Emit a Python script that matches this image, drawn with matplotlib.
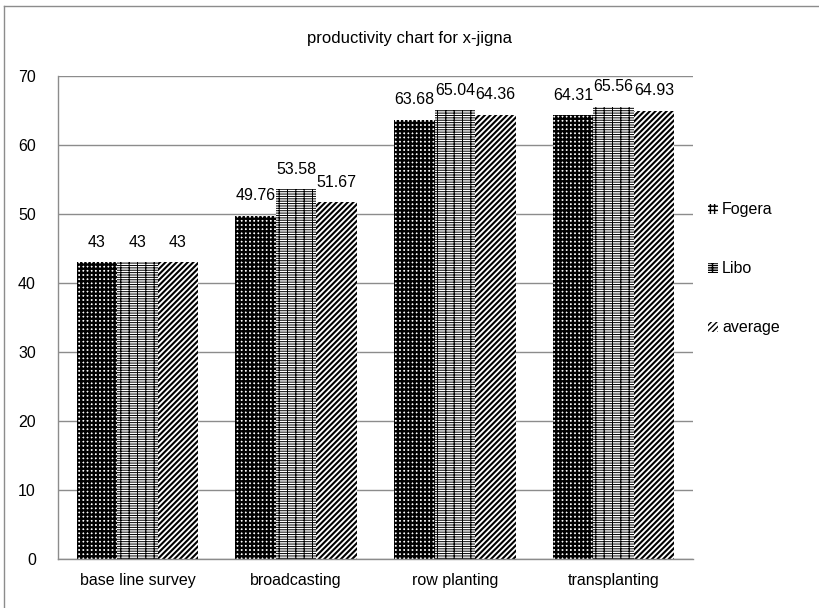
import matplotlib
matplotlib.use("Agg")
import matplotlib.pyplot as plt
import numpy as np
from matplotlib.lines import Line2D

plt.rcParams['font.family'] = ['Liberation Sans', 'DejaVu Sans']

categories = ["base line survey", "broadcasting", "row planting", "transplanting"]
series_names = ["Fogera", "Libo", "average"]
fogera = [43, 49.76, 63.68, 64.31]
libo = [43, 53.58, 65.04, 65.56]
average = [43, 51.67, 64.36, 64.93]
labels_fogera = ["43", "49.76", "63.68", "64.31"]
labels_libo = ["43", "53.58", "65.04", "65.56"]
labels_average = ["43", "51.67", "64.36", "64.93"]
yticks = [0, 10, 20, 30, 40, 50, 60, 70]

fig = plt.figure(figsize=(8.19, 6.08), dpi=100)
ax = fig.add_axes([58/819, 1-559/608, (693-58)/819, (559-76)/608])

x = np.arange(len(categories))
w = 0.255
hatches = ['++++', '-----++', '//////']
hlw = [1.7, 0.7, 1.5]
data = [fogera, libo, average]
labs = [labels_fogera, labels_libo, labels_average]
handles = []
for i, (vals, h, lb) in enumerate(zip(data, hatches, labs)):
    with plt.rc_context({'hatch.linewidth': hlw[i]}):
        bars = ax.bar(x + (i-1)*w, vals, w, color='white', edgecolor='black',
                      hatch=h, linewidth=0, label=series_names[i])
        for b in bars:
            if hasattr(b, 'set_hatch_linewidth'):
                b.set_hatch_linewidth(hlw[i])
    ax.bar_label(bars, labels=lb, padding=9, fontsize=11.5)
    handles.append(bars)

ax.set_ylim(0, 70)
ax.set_xlim(-0.5, 3.5)
ax.set_yticks(yticks)
ax.set_xticks(x)
ax.set_xticklabels(categories, fontsize=11.5)
ax.tick_params(axis='y', labelsize=11.5, length=0, pad=16)
ax.tick_params(axis='x', length=0, pad=10)
ax.yaxis.grid(True, color='#8c8c8c', linewidth=1)
ax.set_axisbelow(True)
for s in ['top', 'right']:
    ax.spines[s].set_visible(False)
for s in ['left', 'bottom']:
    ax.spines[s].set_color('#8c8c8c')
    ax.spines[s].set_linewidth(1)

fig.text(0.5, 1-38/608, "productivity chart for x-jigna", ha='center', va='center', fontsize=12)

leg = fig.legend(handles=handles, labels=series_names, loc='upper left',
                 bbox_to_anchor=(694/819, 1-188/608), frameon=False, fontsize=11.5,
                 handlelength=0.6, handleheight=0.6, handletextpad=0.25, labelspacing=2.75)

# outer frame (top and left)
fig.add_artist(Line2D([4/819, 4/819], [0, 1-6/608], color='#8c8c8c', lw=1, transform=fig.transFigure))
fig.add_artist(Line2D([4/819, 1], [1-6/608, 1-6/608], color='#8c8c8c', lw=1, transform=fig.transFigure))

fig.savefig("out.png", dpi=100)
